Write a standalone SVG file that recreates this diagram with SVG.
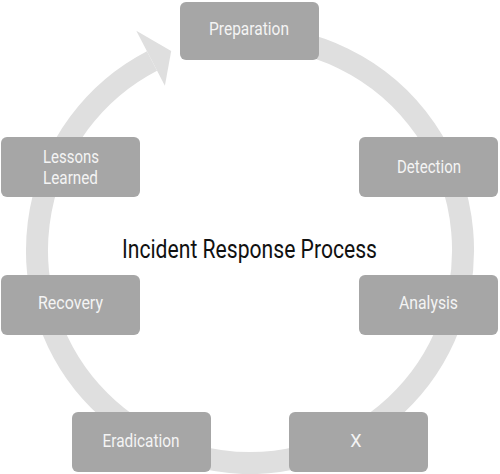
<svg xmlns="http://www.w3.org/2000/svg" width="500" height="474" viewBox="0 0 500 474">
  <style>
    .step rect { fill: #a6a6a6; }
    .step text { fill: #f4f4f4; font-family: Roboto, "Liberation Sans", sans-serif; font-size: 18px; text-anchor: middle; }
    .ring { fill: none; stroke: #dfdfdf; stroke-width: 22; }
    .head { fill: #dfdfdf; }
    .title { fill: #111111; font-family: Roboto, "Liberation Sans", sans-serif; font-size: 25px; text-anchor: middle; }
  </style>
  <rect width="500" height="474" fill="#ffffff"/>

  <!-- clockwise cycle ring with arrowhead pointing into Preparation -->
  <g id="connectors">
    <path class="ring" d="M 250 37 A 213 213 0 1 1 152.0 60.9"/>
    <polygon class="head" points="136.3,30.7 164.9,85.8 171.2,51.0"/>
  </g>

  <text class="title" x="249.5" y="258" textLength="255" lengthAdjust="spacingAndGlyphs">Incident Response Process</text>

  <g id="preparation" class="step">
    <rect x="180" y="2" width="139" height="58" rx="6"/>
    <text x="249" y="35" textLength="80" lengthAdjust="spacingAndGlyphs">Preparation</text>
  </g>
  <g id="detection" class="step">
    <rect x="359" y="137" width="139" height="60" rx="6"/>
    <text x="429" y="173" textLength="64" lengthAdjust="spacingAndGlyphs">Detection</text>
  </g>
  <g id="analysis" class="step">
    <rect x="359" y="275" width="139" height="60" rx="6"/>
    <text x="428.5" y="309" textLength="59" lengthAdjust="spacingAndGlyphs">Analysis</text>
  </g>
  <g id="x" class="step">
    <rect x="289" y="412" width="139" height="60" rx="6"/>
    <text x="356" y="447">X</text>
  </g>
  <g id="eradication" class="step">
    <rect x="72" y="412" width="139" height="60" rx="6"/>
    <text x="141" y="447" textLength="77" lengthAdjust="spacingAndGlyphs">Eradication</text>
  </g>
  <g id="recovery" class="step">
    <rect x="1" y="275" width="139" height="60" rx="6"/>
    <text x="70.5" y="309" textLength="65" lengthAdjust="spacingAndGlyphs">Recovery</text>
  </g>
  <g id="lessons-learned" class="step">
    <rect x="1" y="137" width="139" height="60" rx="6"/>
    <text x="71" y="163" textLength="56" lengthAdjust="spacingAndGlyphs">Lessons</text>
    <text x="70.5" y="184" textLength="55" lengthAdjust="spacingAndGlyphs">Learned</text>
  </g>
</svg>
